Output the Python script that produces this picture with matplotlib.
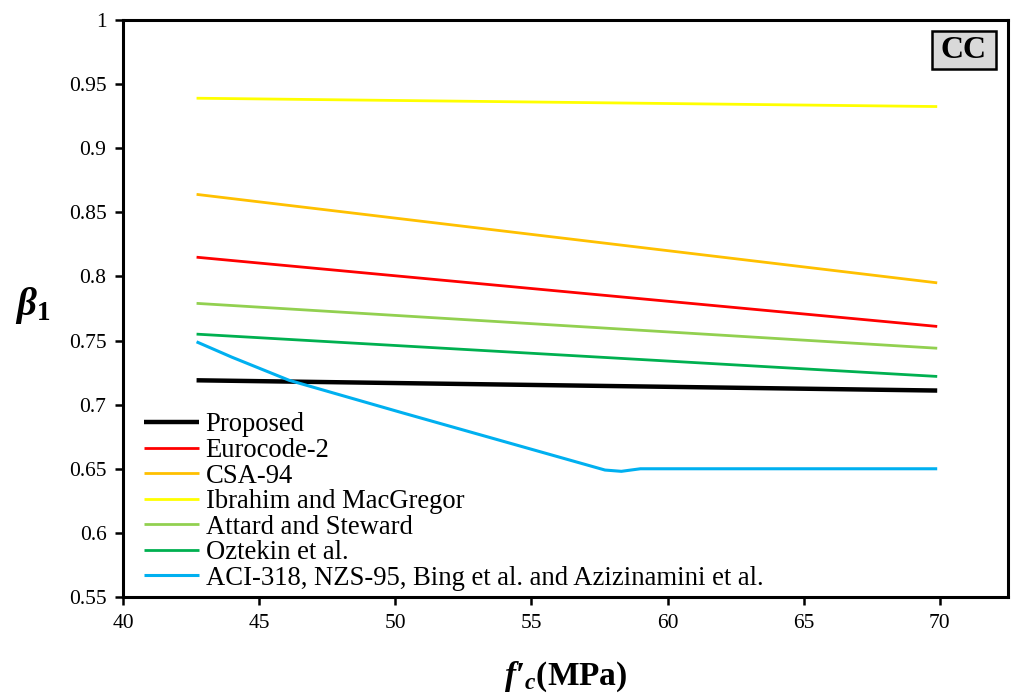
import matplotlib
matplotlib.use("Agg")
import matplotlib.pyplot as plt
from matplotlib.patches import Rectangle
import numpy as np

# ---- data ----
fc_ends = [42.7, 69.9]
proposed = [0.719, 0.711]
eurocode = [0.815, 0.761]
csa = [0.864, 0.795]
ibrahim = [0.939, 0.9325]
attard = [0.779, 0.744]
oztekin = [0.755, 0.722]
aci_fc = [42.7, 44.0, 46.1, 50.2, 57.7, 58.3, 59.0, 69.9]
aci = [0.749, 0.737, 0.719, 0.694, 0.649, 0.648, 0.650, 0.650]

labels = ["Proposed", "Eurocode-2", "CSA-94", "Ibrahim and MacGregor",
          "Attard and Steward", "Oztekin et al.",
          "ACI-318, NZS-95, Bing et al. and Azizinamini et al."]
colors = ["#000000", "#FF0000", "#FFC000", "#FFFF00", "#92D050", "#00B050", "#00B0F0"]
xticks = [40, 45, 50, 55, 60, 65, 70]
yticks = [0.55, 0.6, 0.65, 0.7, 0.75, 0.8, 0.85, 0.9, 0.95, 1.0]
ytick_labels = ["0.55", "0.6", "0.65", "0.7", "0.75", "0.8", "0.85", "0.9", "0.95", "1"]

plt.rcParams['font.family'] = ['Liberation Serif', 'DejaVu Serif']
plt.rcParams['mathtext.fontset'] = 'custom'
plt.rcParams['mathtext.it'] = 'Liberation Serif:bold:italic'
plt.rcParams['mathtext.rm'] = 'Liberation Serif:bold'
plt.rcParams['mathtext.bf'] = 'Liberation Serif:bold'

fig = plt.figure(figsize=(10.22, 6.97), dpi=100)
ax = fig.add_axes([0.1204, 0.1435, 0.8659, 0.8278])

series = [(fc_ends, proposed), (fc_ends, eurocode), (fc_ends, csa), (fc_ends, ibrahim),
          (fc_ends, attard), (fc_ends, oztekin), (aci_fc, aci)]
widths = [3.2, 2.0, 2.0, 2.0, 2.0, 2.0, 2.2]
for (xs, ys), lab, c, w in zip(series, labels, colors, widths):
    ax.plot(xs, ys, color=c, lw=w, label=lab, solid_capstyle='butt')

ax.set_xlim(40, 72.5)
ax.set_ylim(0.55, 1.0)
ax.set_xticks(xticks)
ax.set_xticklabels([str(t) for t in xticks], fontsize=15.5)
ax.set_yticks(yticks)
ax.set_yticklabels(ytick_labels, fontsize=15.5)
ax.tick_params(direction='out', length=6, width=1.8, pad=6)
for s in ax.spines.values():
    s.set_linewidth(2.2)

leg = ax.legend(loc='lower left', bbox_to_anchor=(0.0, -0.026), frameon=False,
                fontsize=19.2, handlelength=2.05, handletextpad=0.25,
                labelspacing=0.02, borderaxespad=0.5, borderpad=0.3)

ax.add_patch(Rectangle((0.914, 0.915), 0.0724, 0.066, transform=ax.transAxes,
                       fc='#D9D9D9', ec='black', lw=1.8, zorder=5))
ax.text(0.950, 0.947, "CC", transform=ax.transAxes, ha='center', va='center',
        fontsize=23, fontweight='bold', zorder=6)

ax.set_ylabel(r"$\beta_{1}$", fontsize=28, rotation=0, va='center')
ax.yaxis.set_label_coords(-0.102, 0.505)
ax.set_xlabel(r"$f′_{c}\mathrm{(MPa)}$", fontsize=24, va='center')
ax.xaxis.set_label_coords(0.5, -0.138)

fig.savefig("out.png", dpi=100)
